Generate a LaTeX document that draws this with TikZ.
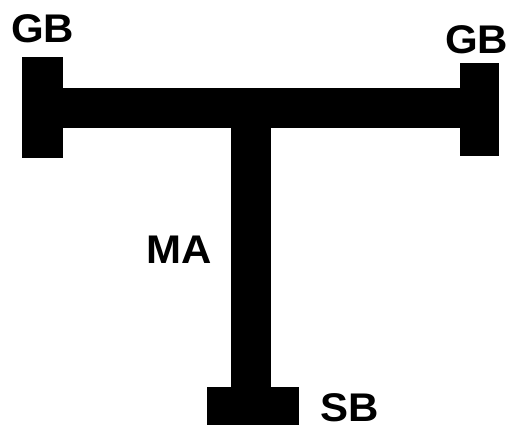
\documentclass[tikz,border=0pt]{standalone}
\usepackage{fontspec}
\setmainfont{Liberation Sans}
\begin{document}
\begin{tikzpicture}[x=1pt,y=-1pt,
  blk/.style={fill=black,draw=none},
  lbl/.style={inner sep=0pt,anchor=base west,font=\fontsize{40}{40}\selectfont\bfseries,xscale=1.05}]
\useasboundingbox (0,0) rectangle (510,425);
% blocks
\fill[blk] (22,57) rectangle (63,158);
\fill[blk] (62,88) rectangle (461,128);
\fill[blk] (460,63) rectangle (499,156);
\fill[blk] (231,127) rectangle (271,388);
\fill[blk] (207,387) rectangle (299,425);
% labels
\node[lbl] (gbl) at (11,43) {GB};
\node[lbl] (gbr) at (445,54) {GB};
\node[lbl] (ma) at (146,263) {MA};
\node[lbl] (sb) at (320,421) {SB};
\end{tikzpicture}
\end{document}
